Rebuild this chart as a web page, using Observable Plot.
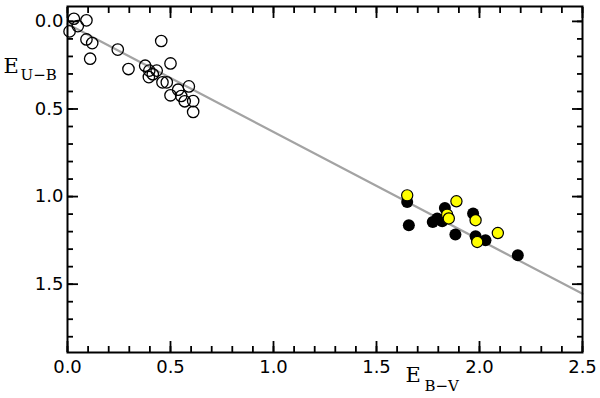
<!DOCTYPE html>
<html><head><meta charset="utf-8">
<script src="https://cdn.jsdelivr.net/npm/d3@7"></script>
<script src="https://cdn.jsdelivr.net/npm/@observablehq/plot@0.6"></script>
<style>body{margin:0;background:#fff}</style>
</head><body><div id="chart"></div>
<script>
// Open circles (E(B-V), E(U-B))
const openBV = [0.031,0.092,0.050,0.010,0.092,0.120,0.110,0.244,0.455,0.296,0.377,0.397,0.433,0.395,0.414,0.500,0.461,0.482,0.589,0.537,0.500,0.552,0.569,0.610,0.610];
const openUB = [-0.015,-0.006,0.027,0.057,0.103,0.124,0.213,0.161,0.112,0.272,0.253,0.281,0.281,0.318,0.302,0.240,0.348,0.348,0.371,0.390,0.422,0.426,0.456,0.455,0.517];
// Filled black circles
const blackBV = [1.649,1.657,1.773,1.795,1.819,1.832,1.883,1.969,1.981,2.029,2.186];
const blackUB = [1.031,1.164,1.145,1.125,1.141,1.065,1.217,1.097,1.226,1.249,1.335];
// Yellow circles
const yellowBV = [1.649,1.888,1.843,1.851,1.981,2.089,1.989];
const yellowUB = [0.993,1.027,1.103,1.125,1.135,1.208,1.259];
// Reddening line
const lineBV = [0, 2.5];
const lineUB = [0.015, 1.555];
// Ticks
const xMajor = [0, 0.5, 1.0, 1.5, 2.0, 2.5];
const yMajor = [0, 0.5, 1.0, 1.5];
const xMinor = d3.range(0, 2.501, 0.1);
const yMinor = d3.range(0, 1.801, 0.1);

const pts = (xs, ys) => xs.map((x, i) => ({x, y: ys[i]}));
const line = pts(lineBV, lineUB);
const fmt = d3.format(".1f");
const tickFont = "DejaVu Sans";
const titleFont = "DejaVu Serif";

const chart = Plot.plot({
  width: 600, height: 398,
  marginLeft: 67, marginRight: 18, marginTop: 6, marginBottom: 46,
  style: {fontFamily: tickFont, fontSize: "18px", background: "#fff", color: "#000"},
  x: {domain: [0, 2.5]},
  y: {domain: [-0.085, 1.89], reverse: true},
  marks: [
    Plot.line(line, {x: "x", y: "y", stroke: "#a3a3a3", strokeWidth: 2.2}),
    Plot.dot(pts(openBV, openUB), {x: "x", y: "y", r: 5.7, stroke: "#000", strokeWidth: 1.3, fill: "none"}),
    Plot.dot(pts(blackBV, blackUB), {x: "x", y: "y", r: 6, fill: "#000", stroke: "none"}),
    Plot.dot(pts(yellowBV, yellowUB), {x: "x", y: "y", r: 5.6, fill: "#ffff00", stroke: "#000", strokeWidth: 1.2}),
    Plot.frame({stroke: "#000", strokeWidth: 2}),
    Plot.axisX(xMinor, {anchor: "bottom", tickSize: -6, strokeWidth: 1.8, text: null, label: null}),
    Plot.axisX(xMinor, {anchor: "top", tickSize: -6, strokeWidth: 1.8, text: null, label: null}),
    Plot.axisX(xMajor, {anchor: "bottom", tickSize: -11, strokeWidth: 1.8, text: null, label: null}),
    Plot.axisX(xMajor, {anchor: "top", tickSize: -11, strokeWidth: 1.8, text: null, label: null}),
    Plot.axisY(yMinor, {anchor: "left", tickSize: -6, strokeWidth: 1.8, text: null, label: null}),
    Plot.axisY(yMinor, {anchor: "right", tickSize: -6, strokeWidth: 1.8, text: null, label: null}),
    Plot.axisY(yMajor, {anchor: "left", tickSize: -11, strokeWidth: 1.8, text: null, label: null}),
    Plot.axisY(yMajor, {anchor: "right", tickSize: -11, strokeWidth: 1.8, text: null, label: null}),
    Plot.axisX(xMajor, {anchor: "bottom", tickSize: 0, tickPadding: 8, tickFormat: fmt, fontSize: 18, label: null}),
    Plot.axisY(yMajor, {anchor: "left", tickSize: 0, tickPadding: 4, tickFormat: fmt, fontSize: 18, label: null}),
    // axis titles
    Plot.text(["E"], {frameAnchor: "bottom-left", text: d => d, textAnchor: "start", dx: 338, dy: 29, fontSize: 21, fontFamily: titleFont}),
    Plot.text(["B\u2212V"], {frameAnchor: "bottom-left", text: d => d, textAnchor: "start", dx: 357, dy: 38, fontSize: 15, fontFamily: titleFont}),
    Plot.text(["E"], {frameAnchor: "top-left", text: d => d, textAnchor: "start", dx: -64, dy: 52, fontSize: 21, fontFamily: titleFont}),
    Plot.text(["U\u2212B"], {frameAnchor: "top-left", text: d => d, textAnchor: "start", dx: -47, dy: 63, fontSize: 15, fontFamily: titleFont})
  ]
});
document.getElementById("chart").appendChild(chart);
</script>
</body></html>
